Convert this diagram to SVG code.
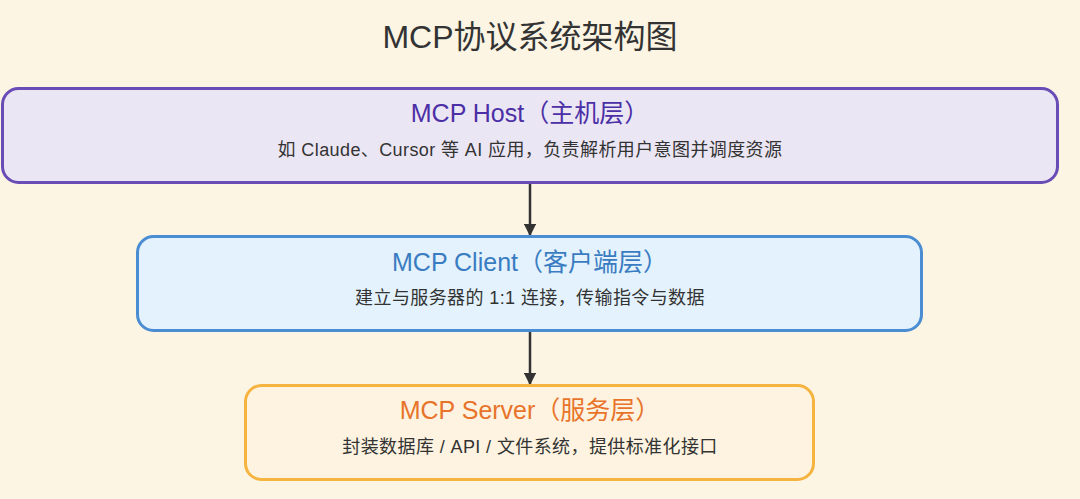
<svg xmlns="http://www.w3.org/2000/svg" width="1080" height="499" viewBox="0 0 1080 499">
<style>
text{font-family:"Liberation Sans","Noto Sans CJK SC",sans-serif;text-anchor:middle}
.title{font-size:32px;fill:#333}
.h{font-size:25px}
.sub{font-size:18px;fill:#333;letter-spacing:0.4px}
.conn{stroke:#333;stroke-width:2.5;fill:none}
</style>
<defs>
<marker id="arr" viewBox="0 0 10 10" refX="9" refY="5" markerWidth="5" markerHeight="5" orient="auto" markerUnits="strokeWidth">
<path d="M0,0 L10,5 L0,10 z" fill="#333"/>
</marker>
</defs>
<rect width="1080" height="499" fill="#fcf5e3"/>
<text class="title" x="530" y="48">MCP协议系统架构图</text>
<g id="connectors">
<line class="conn" x1="530" y1="183" x2="530" y2="235" marker-end="url(#arr)"/>
<line class="conn" x1="530" y1="331" x2="530" y2="384" marker-end="url(#arr)"/>
</g>
<g id="host">
<rect x="2.5" y="88.5" width="1055" height="94" rx="16" fill="#ebe6f4" stroke="#6a4cb7" stroke-width="3"/>
<text class="h" x="530" y="122" fill="#4b2fa6">MCP Host（主机层）</text>
<text class="sub" x="530" y="156">如 Claude、Cursor 等 AI 应用，负责解析用户意图并调度资源</text>
</g>
<g id="client">
<rect x="137.5" y="236.5" width="784" height="94" rx="16" fill="#e3f2fc" stroke="#4a8dd2" stroke-width="3"/>
<text class="h" x="530" y="271" fill="#3a7cc2">MCP Client（客户端层）</text>
<text class="sub" x="530" y="304">建立与服务器的 1:1 连接，传输指令与数据</text>
</g>
<g id="server">
<rect x="245.5" y="385.5" width="568" height="94" rx="16" fill="#fdf3e0" stroke="#f5b33f" stroke-width="3"/>
<text class="h" x="530" y="419" fill="#e8732a">MCP Server（服务层）</text>
<text class="sub" x="530" y="453">封装数据库 / API / 文件系统，提供标准化接口</text>
</g>
</svg>
